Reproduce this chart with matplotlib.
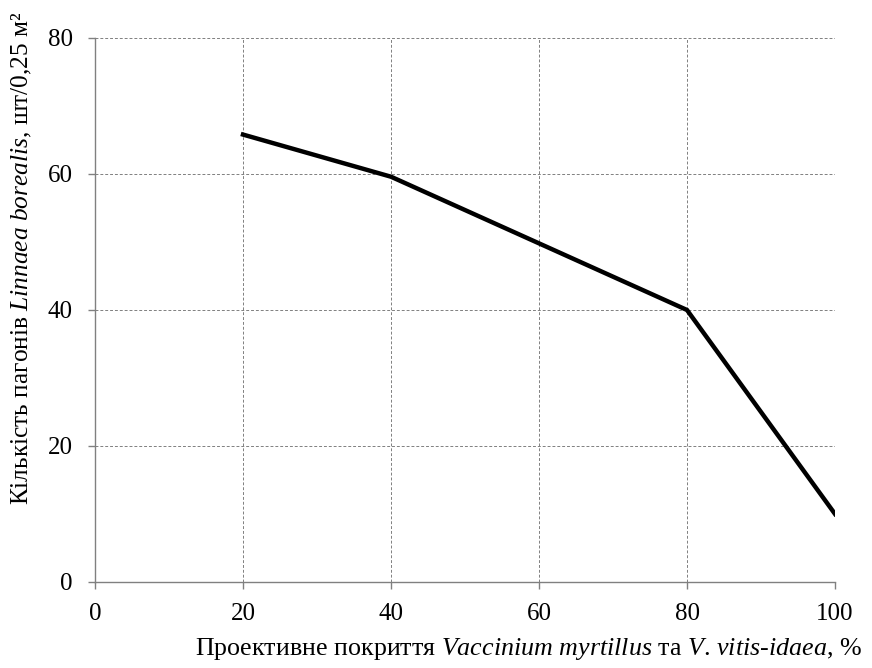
import matplotlib
matplotlib.use("Agg")
import matplotlib.pyplot as plt

coverage = [20, 40, 80, 100]
shoots = [65.8, 59.6, 40, 10]
x_ticks = [0, 20, 40, 60, 80, 100]
y_ticks = [0, 20, 40, 60, 80]

plt.rcParams['font.family'] = ['Liberation Serif', 'DejaVu Serif']
plt.rcParams['mathtext.fontset'] = 'custom'
plt.rcParams['mathtext.rm'] = 'Liberation Serif'
plt.rcParams['mathtext.it'] = 'Liberation Serif:italic'

fig = plt.figure(figsize=(8.72, 6.68), dpi=100)
ax = fig.add_axes([95/872, 86/668, 740/872, 544/668])

ax.plot(coverage, shoots, color='black', lw=3.2, solid_joinstyle='miter')
ax.set_xlim(0, 100)
ax.set_ylim(0, 80)
ax.set_xticks(x_ticks)
ax.set_yticks(y_ticks)
ax.grid(True, color='#808080', ls=(0, (3, 2)), lw=0.7)
for s in ['top', 'right']:
    ax.spines[s].set_visible(False)
for s in ['left', 'bottom']:
    ax.spines[s].set_color('#808080')
    ax.spines[s].set_linewidth(1.0)
ax.tick_params(direction='out', length=5, width=1.0, color='#808080', labelsize=18)
ax.tick_params(axis='x', pad=10)
ax.tick_params(axis='y', pad=11)

fig.text(22/872, 1 - 258/668,
         r"Кількість пагонів $\mathit{Linnaea}$ $\mathit{borealis}$, шт/0,25 м²",
         rotation=90, ha='center', va='center', fontsize=18.3)
fig.text(862/872, 6/668,
         r"Проективне покриття $\mathit{Vaccinium}$ $\mathit{myrtillus}$ та $\mathit{V.\,vitis}$-$\mathit{idaea}$, %",
         ha='right', va='bottom', fontsize=18.7)

fig.savefig("out.png", dpi=100)
